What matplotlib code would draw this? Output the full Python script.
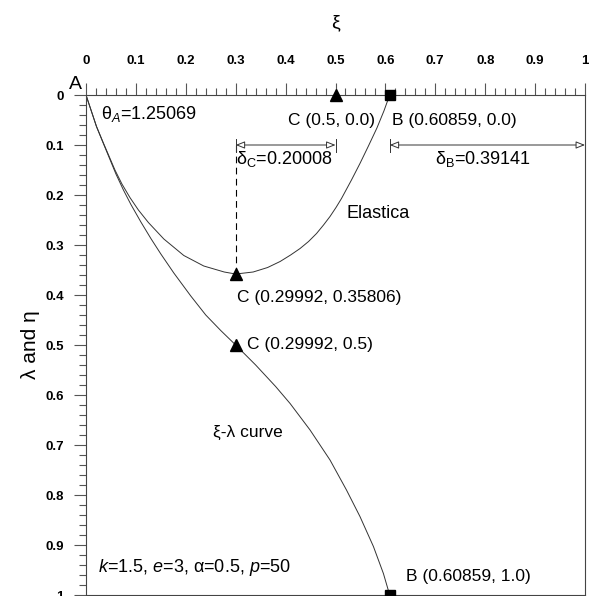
import matplotlib

matplotlib.use("Agg")
import matplotlib.pyplot as plt
from matplotlib.ticker import FuncFormatter, MultipleLocator

plt.rcParams["font.family"] = ["Liberation Sans", "DejaVu Sans"]
plt.rcParams["mathtext.fontset"] = "custom"
plt.rcParams["mathtext.rm"] = "Liberation Sans"
plt.rcParams["mathtext.it"] = "Liberation Sans:italic"

# elastica shape (xi, eta)
elastica_xi = [0.0, 0.011, 0.021, 0.034, 0.046, 0.058, 0.072, 0.088, 0.105, 0.125,
               0.156, 0.196, 0.236, 0.277, 0.29992, 0.335, 0.364, 0.389, 0.41, 0.429,
               0.446, 0.462, 0.476, 0.489, 0.501, 0.512, 0.532, 0.549, 0.566, 0.583,
               0.597, 0.60859]
elastica_eta = [0.0, 0.033, 0.063, 0.094, 0.122, 0.15, 0.178, 0.205, 0.23, 0.255,
                0.288, 0.321, 0.342, 0.354, 0.35806, 0.354, 0.345, 0.333, 0.32, 0.307,
                0.293, 0.277, 0.26, 0.243, 0.225, 0.207, 0.17, 0.137, 0.102, 0.066,
                0.032, 0.0]

# xi-lambda curve
curve_xi = [0.0, 0.011, 0.021, 0.034, 0.046, 0.06, 0.075, 0.09, 0.11, 0.13, 0.15,
            0.176, 0.21, 0.24, 0.27, 0.29992, 0.34, 0.38, 0.409, 0.449, 0.489,
            0.522, 0.549, 0.576, 0.596, 0.60859]
curve_lam = [0.0, 0.033, 0.063, 0.095, 0.124, 0.158, 0.19, 0.219, 0.254, 0.287, 0.318,
             0.356, 0.402, 0.44, 0.471, 0.5, 0.54, 0.583, 0.617, 0.67, 0.73,
             0.79, 0.843, 0.903, 0.957, 1.0]

xi_c, eta_c, lam_c = 0.29992, 0.35806, 0.5
xi_c0 = 0.5
xi_b = 0.60859
theta_a = 1.25069
delta_c = 0.20008
delta_b = 0.39141

fig = plt.figure(figsize=(5.89, 5.96), dpi=100)
ax = fig.add_axes([86 / 589, 1 / 596, 499 / 589, 500 / 596])

line_kw = dict(color="#333333", lw=0.7)
ax.plot(elastica_xi, elastica_eta, **line_kw)
ax.plot(curve_xi, curve_lam, **line_kw)

# markers
ax.plot([xi_c, xi_c, xi_c0], [eta_c, lam_c, 0.0], "^", color="black", ms=8, clip_on=False, zorder=5)
ax.plot([xi_b, xi_b], [0.0, 1.0], "s", color="black", ms=7, clip_on=False, zorder=5)

# dashed line down to C
ax.plot([xi_c, xi_c], [0.1, eta_c], color="black", lw=0.8, ls=(0, (6, 4)))


def dim_arrow(x0, x1, y):
    ax.annotate("", xy=(x0, y), xytext=(x1, y),
                arrowprops=dict(arrowstyle="<|-|>,head_length=0.55,head_width=0.22",
                                fc="white", ec="#333333", lw=0.7,
                                shrinkA=0, shrinkB=0))
    for x in (x0, x1):
        ax.plot([x, x], [y - 0.013, y + 0.013], color="#333333", lw=0.7, clip_on=False)


dim_arrow(0.3, xi_c0, 0.1)
dim_arrow(xi_b, 1.0, 0.1)

fs = 12.5
ax.text(0.03, 0.037, "θ$_{A}$=%.5f" % theta_a, fontsize=fs + 0.5, va="center")
ax.text(0.405, 0.05, "C (0.5, 0.0)", fontsize=fs, va="center")
ax.text(0.613, 0.05, "B (0.60859, 0.0)", fontsize=fs, va="center")
ax.text(0.301, 0.128, "δ$_{\\mathrm{C}}$=%.5f" % delta_c, fontsize=fs + 0.5, va="center")
ax.text(0.70, 0.128, "δ$_{\\mathrm{B}}$=%.5f" % delta_b, fontsize=fs + 0.5, va="center")
ax.text(0.523, 0.236, "Elastica", fontsize=fs + 0.5, va="center")
ax.text(0.303, 0.405, "C (0.29992, 0.35806)", fontsize=fs, va="center")
ax.text(0.323, 0.5, "C (0.29992, 0.5)", fontsize=fs, va="center")
ax.text(0.255, 0.674, "ξ-λ curve", fontsize=fs, va="center")
ax.text(0.024, 0.944, "$k$=1.5, $e$=3, α=0.5, $p$=50", fontsize=fs + 0.5, va="center")
ax.text(0.641, 0.964, "B (0.60859, 1.0)", fontsize=fs, va="center")
ax.text(-0.008, -0.004, "A", fontsize=fs + 1.5, ha="right", va="bottom")

ax.set_xlim(0, 1)
ax.set_ylim(1, 0)
for axis in (ax.xaxis, ax.yaxis):
    axis.set_major_locator(MultipleLocator(0.1))
    axis.set_minor_locator(MultipleLocator(0.02))
    axis.set_major_formatter(FuncFormatter(lambda v, pos: f"{round(v, 2):g}"))
ax.xaxis.tick_top()
ax.xaxis.set_label_position("top")
ax.tick_params(which="major", length=9, width=0.8, color="#555555", labelsize=9.5)
ax.tick_params(axis="x", which="major", pad=11)
ax.tick_params(axis="y", which="major", pad=7)
ax.tick_params(which="minor", length=5, width=0.8, color="#555555")
for lab in ax.get_xticklabels() + ax.get_yticklabels():
    lab.set_fontweight("bold")

ax.set_xlabel("ξ", fontsize=14, labelpad=20)
ax.set_ylabel("λ and η", fontsize=15, labelpad=4)
for sp in ax.spines.values():
    sp.set_color("#444444")
    sp.set_linewidth(0.8)

fig.savefig("out.png", dpi=100)
